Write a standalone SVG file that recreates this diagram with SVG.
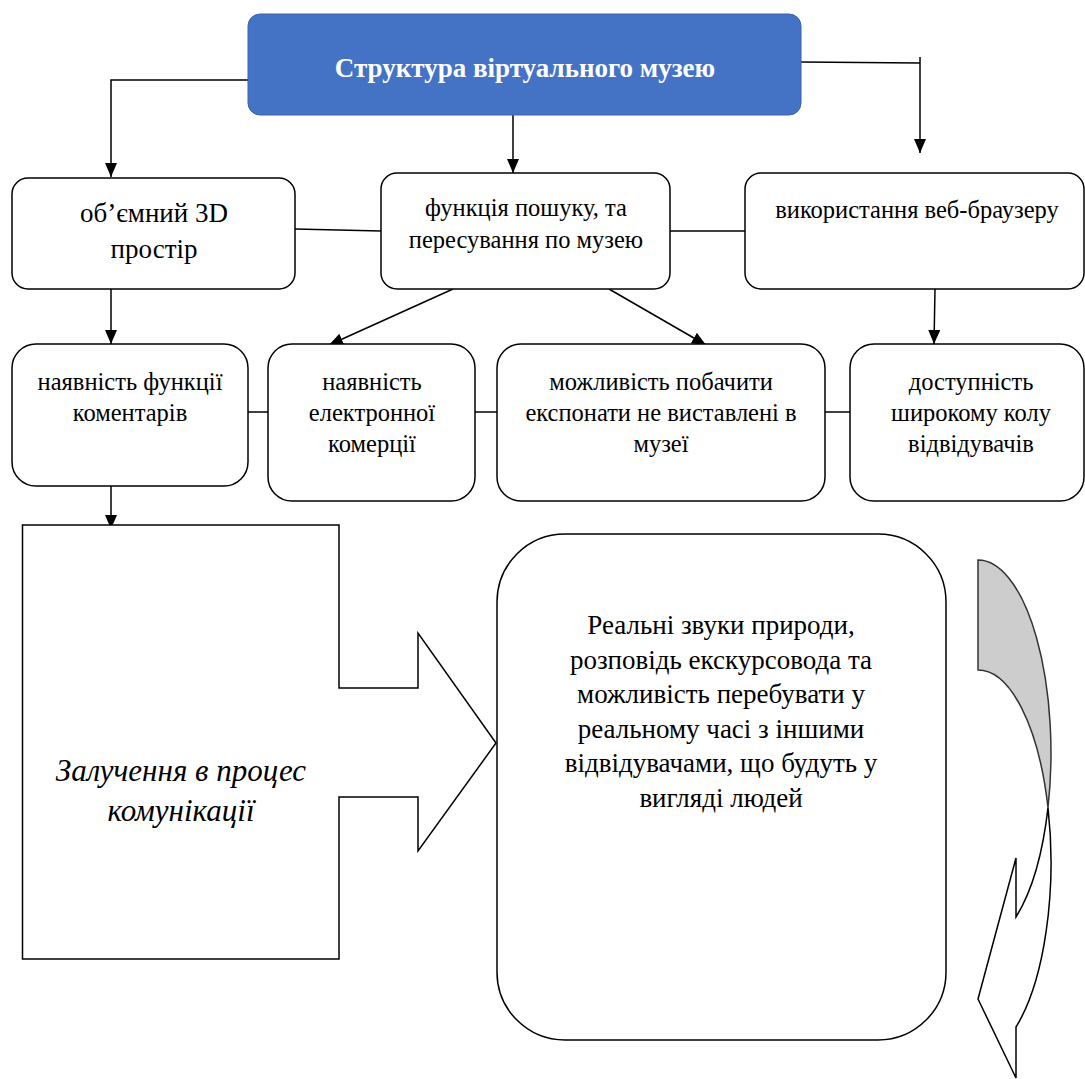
<svg xmlns="http://www.w3.org/2000/svg" width="1085" height="1079" viewBox="0 0 1085 1079">
<style>
.box{fill:#ffffff;stroke:#000000;stroke-width:1.5}
.t{font-family:"Liberation Serif","Times New Roman",serif;font-size:24.5px;fill:#000000;text-anchor:middle}
.c{fill:none;stroke:#000000;stroke-width:1.5}
</style>
<defs>
<marker id="ah" markerUnits="userSpaceOnUse" markerWidth="14" markerHeight="12" refX="14" refY="6" orient="auto">
<path d="M0,0 L14,6 L0,12 Z" fill="#000000"/>
</marker>
</defs>
<rect width="1085" height="1079" fill="#ffffff"/>

<g id="connectors">
<path class="c" d="M248,80 L111,80 L111,177" marker-end="url(#ah)"/>
<path class="c" d="M513,115 L513,173" marker-end="url(#ah)"/>
<path class="c" d="M801,62 L920,63"/>
<path class="c" d="M920,57 L920,153" marker-end="url(#ah)"/>
<path class="c" d="M295,229 L381,231"/>
<path class="c" d="M670,231 L745,231"/>
<path class="c" d="M111,289 L111,344" marker-end="url(#ah)"/>
<path class="c" d="M453,289 L329,345" marker-end="url(#ah)"/>
<path class="c" d="M609,289 L706,345" marker-end="url(#ah)"/>
<path class="c" d="M935,289 L934,344" marker-end="url(#ah)"/>
<path class="c" d="M248,412 L268,412"/>
<path class="c" d="M475,412 L497,412"/>
<path class="c" d="M825,412 L850,412"/>
<path class="c" d="M111,486 L111,529" marker-end="url(#ah)"/>
</g>

<g id="title">
<rect x="248" y="14" width="553" height="101" rx="12" fill="#4472C4" stroke="#3A62AC" stroke-width="1"/>
<text x="525" y="77" class="t" style="font-size:27px;font-weight:bold;fill:#ffffff">Структура віртуального музею</text>
</g>

<g id="n-3d">
<rect class="box" x="12" y="178" width="283" height="111" rx="16"/>
<text class="t" x="154" y="222" style="font-size:27px">об’ємний 3D</text>
<text class="t" x="154" y="258" style="font-size:27px">простір</text>
</g>

<g id="n-search">
<rect class="box" x="381" y="173" width="289" height="116" rx="16"/>
<text class="t" x="526" y="216">функція пошуку, та</text>
<text class="t" x="526" y="248">пересування по музею</text>
</g>

<g id="n-browser">
<rect class="box" x="745" y="173" width="339" height="116" rx="16"/>
<text class="t" x="917" y="218">використання веб-браузеру</text>
</g>

<g id="n-comments">
<rect class="box" x="12" y="344" width="236" height="142" rx="24"/>
<text class="t" x="130" y="390">наявність функції</text>
<text class="t" x="130" y="421">коментарів</text>
</g>

<g id="n-ecommerce">
<rect class="box" x="268" y="344" width="207" height="157" rx="24"/>
<text class="t" x="372" y="390">наявність</text>
<text class="t" x="372" y="421">електронної</text>
<text class="t" x="372" y="452">комерції</text>
</g>

<g id="n-exhibits">
<rect class="box" x="497" y="344" width="328" height="157" rx="24"/>
<text class="t" x="661" y="390">можливість побачити</text>
<text class="t" x="661" y="421">експонати не виставлені в</text>
<text class="t" x="661" y="452">музеї</text>
</g>

<g id="n-access">
<rect class="box" x="850" y="344" width="234" height="157" rx="24"/>
<text class="t" x="971" y="390">доступність</text>
<text class="t" x="971" y="421">широкому колу</text>
<text class="t" x="971" y="452">відвідувачів</text>
</g>

<g id="n-communication">
<path class="box" d="M22.5,525 L339,525 L339,688 L418,688 L418,633 L496,743 L418,851 L418,797 L339,797 L339,959 L22.5,959 Z"/>
<text class="t" x="181" y="781" style="font-size:31px;font-style:italic">Залучення в процес</text>
<text class="t" x="181" y="821" style="font-size:31px;font-style:italic">комунікації</text>
</g>

<g id="n-real">
<rect class="box" x="497" y="534" width="449" height="506" rx="68"/>
<text class="t" x="721" y="634" style="font-size:27px">Реальні звуки природи,</text>
<text class="t" x="721" y="668.6" style="font-size:27px">розповідь екскурсовода та</text>
<text class="t" x="721" y="703.2" style="font-size:27px">можливість перебувати у</text>
<text class="t" x="721" y="737.8" style="font-size:27px">реальному часі з іншими</text>
<text class="t" x="721" y="772.4" style="font-size:27px">відвідувачами, що будуть у</text>
<text class="t" x="721" y="807" style="font-size:27px">вигляді людей</text>
</g>

<g id="curved-arrow">
<path d="M978,560 A73,193 0 0,1 1048,807.6 A73,193 0 0,0 978,670 Z" fill="#cdcdcd" stroke="#333333" stroke-width="1.5"/>
<path d="M1048,807.6 A73,193 0 0,1 1016,917 L1016,858 L978,999 L1016,1078 L1016,1027 A73,193 0 0,0 1048,807.6 Z" fill="#ffffff" stroke="#000000" stroke-width="1.5"/>
</g>
</svg>
